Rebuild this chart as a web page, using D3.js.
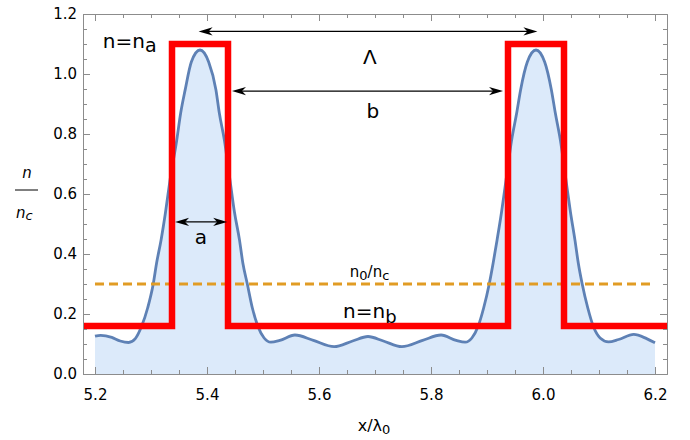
<!DOCTYPE html>
<html lang="en">
<head>
<meta charset="utf-8"/>
<style>
    body { margin: 0; background: #fff; }
    svg { display: block; font-family: "DejaVu Sans", sans-serif; }
    .axis path { stroke: #8c8c8c; }
    .axis line { stroke: #8c8c8c; }
    .axis text { fill: #000; font-size: 15px; font-family: "DejaVu Sans", sans-serif; }
    path.fill { fill: #dceafa; stroke: none; }
    path.density { fill: none; stroke: #5e81b5; stroke-width: 2.8px; }
    line.n0 { stroke: #e19c24; stroke-width: 3px; stroke-dasharray: 9 5; }
    path.step { fill: none; stroke: #ff0000; stroke-width: 6.5px; stroke-linejoin: miter; }
    .arrow line { stroke: #000; stroke-width: 1.3px; }
    .arrow path { fill: #000; stroke: none; }
    text.lbl { font-size: 20px; fill: #000; }
</style>
<script src="https://cdn.jsdelivr.net/npm/d3@7/dist/d3.min.js"></script>
</head>
<body>
<svg id="chart" width="690" height="440"></svg>
<script>
    // density profile n/nc
    var xPos = [5.200, 5.210, 5.230, 5.245, 5.260, 5.272, 5.283, 5.294, 5.304, 5.310,
        5.318, 5.326, 5.334, 5.346, 5.353, 5.361, 5.372, 5.3875, 5.403, 5.416,
        5.422, 5.431, 5.441, 5.449, 5.458, 5.464, 5.472, 5.481, 5.491, 5.502,
        5.514, 5.530, 5.557, 5.590, 5.627, 5.660, 5.6875, 5.715, 5.748, 5.785,
        5.818, 5.845, 5.861, 5.873, 5.884, 5.894, 5.904, 5.911, 5.918, 5.926,
        5.934, 5.944, 5.953, 5.960, 5.972, 5.9875, 6.003, 6.015, 6.022, 6.031,
        6.041, 6.049, 6.057, 6.063, 6.070, 6.080, 6.090, 6.102, 6.117, 6.135,
        6.162, 6.185, 6.200];
    var nVal = [0.126, 0.129, 0.122, 0.110, 0.105, 0.118, 0.158, 0.220, 0.300, 0.370,
        0.447, 0.540, 0.647, 0.780, 0.870, 0.947, 1.040, 1.080, 1.040, 0.947,
        0.870, 0.780, 0.647, 0.540, 0.447, 0.370, 0.300, 0.220, 0.158, 0.120,
        0.106, 0.112, 0.130, 0.112, 0.091, 0.110, 0.125, 0.110, 0.091, 0.112,
        0.130, 0.112, 0.106, 0.120, 0.158, 0.220, 0.300, 0.370, 0.447, 0.540,
        0.647, 0.780, 0.870, 0.947, 1.040, 1.080, 1.040, 0.947, 0.870, 0.780,
        0.647, 0.540, 0.447, 0.370, 0.300, 0.220, 0.158, 0.120, 0.107, 0.115,
        0.132, 0.118, 0.104];

    // idealised step profile
    var stepEdges = [5.3375, 5.4375, 5.9375, 6.0375];
    var nA = 1.1, nB = 0.16, n0 = 0.3;

    var xTicks = [5.2, 5.4, 5.6, 5.8, 6.0, 6.2];
    var yTicks = [0, 0.2, 0.4, 0.6, 0.8, 1.0, 1.2];
    var xMinor = [5.25, 5.3, 5.35, 5.45, 5.5, 5.55, 5.65, 5.7, 5.75, 5.85, 5.9, 5.95, 6.05, 6.1, 6.15];
    var yMinor = [0.05, 0.1, 0.15, 0.25, 0.3, 0.35, 0.45, 0.5, 0.55, 0.65, 0.7, 0.75, 0.85, 0.9, 0.95, 1.05, 1.1, 1.15];

    // dimension arrows: [from, to, height]
    var arrows = [
        {x1: 5.385, x2: 5.990, y: 1.142},
        {x1: 5.4446, x2: 5.9286, y: 0.943},
        {x1: 5.343, x2: 5.436, y: 0.507}
    ];

    var svg = d3.select('#chart');
    var padL = 83, padR = 667, padT = 14, padB = 374;
    var pad = 12 / 560;
    var x = d3.scaleLinear().domain([5.2 - pad, 6.2 + pad]).range([padL, padR]);
    var y = d3.scaleLinear().domain([0, 1.2]).range([padB, padT]);

    var pts = xPos.map(function(d, i) { return [d, nVal[i]]; });

    svg.append('path')
        .attr('class', 'fill')
        .attr('d', d3.area().curve(d3.curveMonotoneX)
            .x(function(d) { return x(d[0]); })
            .y0(y(0))
            .y1(function(d) { return y(d[1]); })(pts));

    svg.append('path')
        .attr('class', 'density')
        .attr('d', d3.line().curve(d3.curveMonotoneX)
            .x(function(d) { return x(d[0]); })
            .y(function(d) { return y(d[1]); })(pts));

    svg.append('line')
        .attr('class', 'n0')
        .attr('x1', x(5.2)).attr('x2', x(6.2))
        .attr('y1', y(n0)).attr('y2', y(n0));

    // step: nb outside the layers, na inside
    var stepPts = [[x.domain()[0], nB]];
    stepEdges.forEach(function(e, i) {
        var inside = i % 2 === 0;
        stepPts.push([e, inside ? nB : nA]);
        stepPts.push([e, inside ? nA : nB]);
    });
    stepPts.push([x.domain()[1], nB]);
    svg.append('path')
        .attr('class', 'step')
        .attr('d', d3.line()
            .x(function(d) { return x(d[0]); })
            .y(function(d) { return y(d[1]); })(stepPts));

    // arrows
    function head(px, py, dir) {
        var L = 14, W = 4.2, N = 10;
        return 'M' + px + ',' + py +
            'L' + (px - dir * L) + ',' + (py - W) +
            'L' + (px - dir * N) + ',' + py +
            'L' + (px - dir * L) + ',' + (py + W) + 'Z';
    }
    var ag = svg.selectAll('g.arrow').data(arrows).enter()
        .append('g').attr('class', 'arrow');
    ag.append('line')
        .attr('x1', function(d) { return x(d.x1) + 6; })
        .attr('x2', function(d) { return x(d.x2) - 6; })
        .attr('y1', function(d) { return y(d.y); })
        .attr('y2', function(d) { return y(d.y); });
    ag.append('path').attr('d', function(d) { return head(x(d.x1), y(d.y), -1); });
    ag.append('path').attr('d', function(d) { return head(x(d.x2), y(d.y), 1); });

    // labels
    function label(tx, ty, main, sub, size, subSize, subDy, anchor) {
        var t = svg.append('text')
            .attr('class', 'lbl')
            .attr('x', x(tx)).attr('y', y(ty))
            .style('font-size', size + 'px')
            .attr('text-anchor', anchor || 'start');
        t.append('tspan').text(main);
        if (sub) t.append('tspan').attr('dy', subDy).style('font-size', subSize + 'px').text(sub);
        return t;
    }
    label(5.691, 1.035, 'Λ', null, 20, 0, 0, 'middle');
    label(5.696, 0.853, 'b', null, 20, 0, 0, 'middle');
    label(5.389, 0.433, 'a', null, 20, 0, 0, 'middle');
    label(5.214, 1.087, 'n=n', 'a', 20, 19, 4);
    label(5.643, 0.187, 'n=n', 'b', 20, 18, 5);

    var n0t = svg.append('text').attr('class', 'lbl')
        .attr('x', x(5.655)).attr('y', y(0.323)).style('font-size', '15px');
    n0t.append('tspan').text('n');
    n0t.append('tspan').attr('dy', 3).style('font-size', '13px').text('0');
    n0t.append('tspan').attr('dy', -3).text('/n');
    n0t.append('tspan').attr('dy', 3).style('font-size', '13px').text('c');

    // frame with ticks on all four sides
    var fmt = d3.format('.1f');
    svg.append('g').attr('class', 'axis').attr('transform', 'translate(0,' + padB + ')')
        .call(d3.axisBottom(x).tickValues(xTicks).tickFormat(fmt).tickSizeInner(-7).tickSizeOuter(0).tickPadding(15));
    svg.append('g').attr('class', 'axis').attr('transform', 'translate(0,' + padB + ')')
        .call(d3.axisBottom(x).tickValues(xMinor).tickFormat('').tickSizeInner(-4).tickSizeOuter(0));
    svg.append('g').attr('class', 'axis').attr('transform', 'translate(0,' + padT + ')')
        .call(d3.axisTop(x).tickValues(xTicks).tickFormat('').tickSizeInner(-7).tickSizeOuter(0));
    svg.append('g').attr('class', 'axis').attr('transform', 'translate(0,' + padT + ')')
        .call(d3.axisTop(x).tickValues(xMinor).tickFormat('').tickSizeInner(-4).tickSizeOuter(0));
    svg.append('g').attr('class', 'axis').attr('transform', 'translate(' + padL + ',0)')
        .call(d3.axisLeft(y).tickValues(yTicks).tickFormat(fmt).tickSizeInner(-7).tickSizeOuter(0).tickPadding(6));
    svg.append('g').attr('class', 'axis').attr('transform', 'translate(' + padL + ',0)')
        .call(d3.axisLeft(y).tickValues(yMinor).tickFormat('').tickSizeInner(-4).tickSizeOuter(0));
    svg.append('g').attr('class', 'axis').attr('transform', 'translate(' + padR + ',0)')
        .call(d3.axisRight(y).tickValues(yTicks).tickFormat('').tickSizeInner(-7).tickSizeOuter(0));
    svg.append('g').attr('class', 'axis').attr('transform', 'translate(' + padR + ',0)')
        .call(d3.axisRight(y).tickValues(yMinor).tickFormat('').tickSizeInner(-4).tickSizeOuter(0));

    // axis titles
    var xt = svg.append('text').attr('x', 374).attr('y', 431)
        .attr('text-anchor', 'middle').style('font-size', '16px');
    xt.append('tspan').text('x/λ');
    xt.append('tspan').attr('dy', 3).style('font-size', '13px').text('0');

    svg.append('text').attr('x', 27).attr('y', 178).attr('text-anchor', 'middle')
        .style('font-size', '15px').style('font-style', 'italic').text('n');
    svg.append('line').attr('x1', 15).attr('x2', 38).attr('y1', 190).attr('y2', 190)
        .attr('stroke', '#000').attr('stroke-width', 1);
    var yt = svg.append('text').attr('x', 16).attr('y', 218)
        .style('font-size', '15px').style('font-style', 'italic');
    yt.append('tspan').text('n');
    yt.append('tspan').attr('dy', 2).style('font-size', '13px').text('c');
</script>
</body>
</html>
